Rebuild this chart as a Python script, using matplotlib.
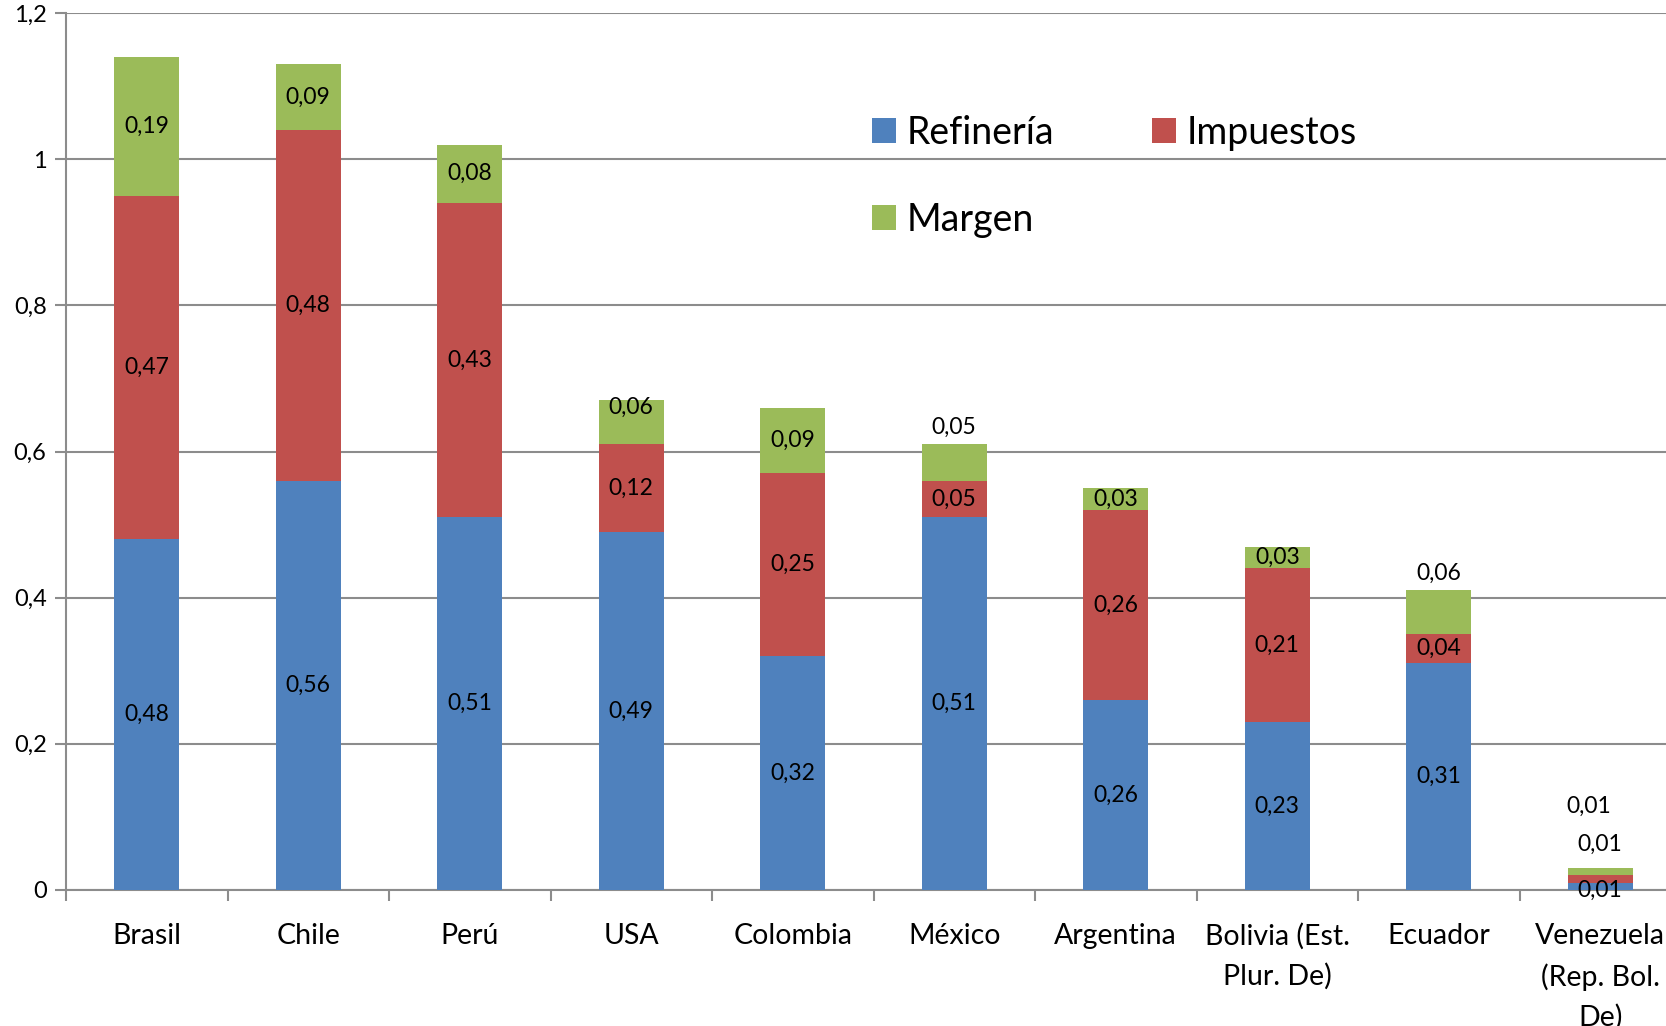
import matplotlib.pyplot as plt
import numpy as np

plt.rcParams['font.family'] = ['Lato', 'DejaVu Sans']

paises = ['Brasil', 'Chile', 'Perú', 'USA', 'Colombia', 'México', 'Argentina',
          'Bolivia (Est.\nPlur. De)', 'Ecuador', 'Venezuela\n(Rep. Bol.\nDe)']
refineria = [0.48, 0.56, 0.51, 0.49, 0.32, 0.51, 0.26, 0.23, 0.31, 0.01]
impuestos = [0.47, 0.48, 0.43, 0.12, 0.25, 0.05, 0.26, 0.21, 0.04, 0.01]
margen = [0.19, 0.09, 0.08, 0.06, 0.09, 0.05, 0.03, 0.03, 0.06, 0.01]

c_ref, c_imp, c_mar = '#4F81BD', '#C0504D', '#9BBB59'

fig = plt.figure(figsize=(16.66, 10.26), dpi=100)
ax = fig.add_axes([66 / 1666, 136 / 1026, 1615 / 1666, 877 / 1026])

x = np.arange(len(paises))
ref = np.array(refineria)
imp = np.array(impuestos)
mar = np.array(margen)
w = 0.4
b1 = ax.bar(x, ref, w, color=c_ref, label='Refinería', zorder=3)
b2 = ax.bar(x, imp, w, bottom=ref, color=c_imp, label='Impuestos', zorder=3)
b3 = ax.bar(x, mar, w, bottom=ref + imp, color=c_mar, label='Margen', zorder=3)

def fmt(v):
    return ('%.2f' % v).replace('.', ',')

fs = 16.5
for i in range(len(x)):
    if i == 9:
        ax.text(x[i], 0.0, fmt(ref[i]), ha='center', va='center', fontsize=fs, zorder=4)
        ax.text(x[i], 0.062, fmt(imp[i]), ha='center', va='center', fontsize=fs, zorder=4)
        ax.text(x[i] - 0.07, 0.115, fmt(mar[i]), ha='center', va='center', fontsize=fs, zorder=4)
        continue
    ax.text(x[i], ref[i] / 2, fmt(ref[i]), ha='center', va='center', fontsize=fs, zorder=4)
    ax.text(x[i], ref[i] + imp[i] / 2, fmt(imp[i]), ha='center', va='center', fontsize=fs, zorder=4)
    top = ref[i] + imp[i]
    if paises[i] in ('México', 'Ecuador'):
        ax.text(x[i], top + mar[i] + 0.023, fmt(mar[i]), ha='center', va='center', fontsize=fs, zorder=4)
    elif paises[i] == 'USA':
        ax.text(x[i], top + mar[i] - 0.009, fmt(mar[i]), ha='center', va='center', fontsize=fs, zorder=4)
    else:
        ax.text(x[i], top + mar[i] / 2, fmt(mar[i]), ha='center', va='center', fontsize=fs, zorder=4)

ax.set_xlim(-0.5, 9.5)
ax.set_ylim(0, 1.2)
ax.set_yticks(np.arange(0, 1.21, 0.2))
ax.set_yticklabels(['0', '0,2', '0,4', '0,6', '0,8', '1', '1,2'], fontsize=17)
ax.yaxis.grid(True, color='#8c8c8c', linewidth=1.5, zorder=0)
ax.set_xticks(x)
ax.set_xticklabels(paises, fontsize=20.5, linespacing=1.6, va='top')
ax.set_xticks(np.arange(-0.5, 10, 1), minor=True)
ax.tick_params(axis='x', which='major', length=0, pad=24)
ax.tick_params(axis='x', which='minor', length=8, width=1.5, color='#8c8c8c')
ax.tick_params(axis='y', length=8, width=1.5, color='#8c8c8c', pad=6)
for s in ('top', 'right'):
    ax.spines[s].set_visible(False)
for s in ('left', 'bottom'):
    ax.spines[s].set_color('#8c8c8c')
    ax.spines[s].set_linewidth(1.5)

ax.legend([b1, b3, b2], ['Refinería', 'Margen', 'Impuestos'],
          loc='upper left', bbox_to_anchor=(0.478, 0.922), ncol=2, frameon=False,
          fontsize=27, handlelength=0.65, handleheight=0.65, handletextpad=0.28,
          columnspacing=2.6, labelspacing=1.35)

fig.savefig('out.png')
